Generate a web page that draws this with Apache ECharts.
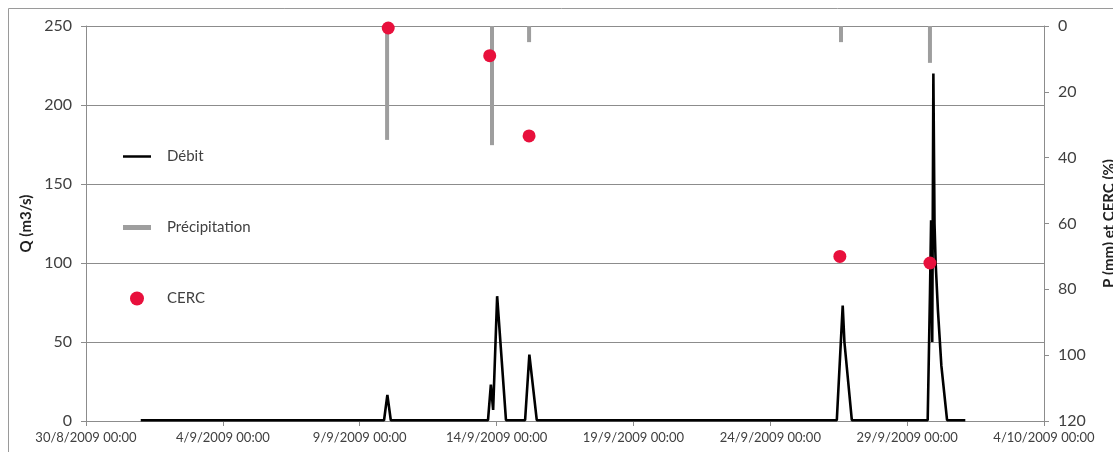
<!DOCTYPE html>
<html>
<head>
<meta charset="utf-8">
<script src="https://cdn.jsdelivr.net/npm/echarts@6/dist/echarts.min.js"></script>
<style>
  html, body { margin: 0; padding: 0; background: #fff; }
  #chart { width: 1113px; height: 452px; }
</style>
</head>
<body>
<div id="chart"></div>
<script>
// Débit (m3/s) — hydrograph readings, date "D/M/YYYY HH:MM"
const debitTimes = [
  '1/9/2009 00:00',
  '9/9/2009 21:20', '10/9/2009 00:15', '10/9/2009 03:15',
  '13/9/2009 16:30', '13/9/2009 19:00', '13/9/2009 21:00', '14/9/2009 00:30', '14/9/2009 08:15',
  '15/9/2009 01:00', '15/9/2009 04:45', '15/9/2009 11:15',
  '26/9/2009 10:20', '26/9/2009 15:30', '26/9/2009 17:00', '26/9/2009 23:30',
  '29/9/2009 18:00', '29/9/2009 20:00', '29/9/2009 21:00', '29/9/2009 22:00', '29/9/2009 23:00',
  '30/9/2009 00:00', '30/9/2009 01:00', '30/9/2009 03:00', '30/9/2009 06:00', '30/9/2009 11:00',
  '1/10/2009 03:00'
];
const debitValues = [
  0.5,
  0.5, 16.5, 0.5,
  0.5, 23, 7, 79, 0.5,
  0.5, 42, 0.5,
  0.5, 73, 50, 0.5,
  0.5, 80, 127, 50, 220,
  125, 100, 70, 35, 0.5,
  0.5
];

// Précipitation (mm)
const pluieTimes = ['10/9/2009 00:00', '13/9/2009 20:00', '15/9/2009 04:30', '26/9/2009 14:00', '29/9/2009 20:00'];
const pluieValues = [34.6, 36.2, 4.9, 4.9, 11.2];

// CERC (%)
const cercTimes = ['10/9/2009 01:00', '13/9/2009 18:00', '15/9/2009 04:30', '26/9/2009 13:00', '29/9/2009 20:00'];
const cercValues = [0.6, 9, 33.4, 70, 72];

// Axis ticks
const xTickStepDays = 5;
const xSpanDays = 35;
const qTicks = [0, 50, 100, 150, 200, 250];
const pTicks = [0, 20, 40, 60, 80, 100, 120];

const ORIGIN = Date.UTC(2009, 7, 30, 0, 0);
const DAY = 86400000;

function toDays(s) {
  const [d, t] = s.split(' ');
  const [dd, mm, yy] = d.split('/').map(Number);
  const [hh, mi] = t.split(':').map(Number);
  return (Date.UTC(yy, mm - 1, dd, hh, mi) - ORIGIN) / DAY;
}
function fmtDate(days) {
  const dt = new Date(ORIGIN + Math.round(days * DAY));
  const hh = String(dt.getUTCHours()).padStart(2, '0');
  const mi = String(dt.getUTCMinutes()).padStart(2, '0');
  return dt.getUTCDate() + '/' + (dt.getUTCMonth() + 1) + '/' + dt.getUTCFullYear() + ' ' + hh + ':' + mi;
}
const zip = (ts, vs) => ts.map((t, i) => [toDays(t), vs[i]]);

const FONT = 'Lato';
const TXT = '#404040';
const GRIDC = '#8c8c8c';
const RED = '#e8103c';

const chart = echarts.init(document.getElementById('chart'), null, { renderer: 'canvas' });
chart.setOption({
  animation: false,
  backgroundColor: '#fff',
  textStyle: { fontFamily: FONT },
  graphic: [{
    type: 'rect', silent: true, z: -10,
    shape: { x: 8.5, y: 8.5, width: 1130, height: 470 },
    style: { fill: 'none', stroke: '#9a9a9a', lineWidth: 1 }
  }],
  grid: { left: 86, right: 69, top: 26, bottom: 31, containLabel: false, outerBoundsMode: 'none' },
  legend: {
    orient: 'vertical',
    left: 123, top: 149,
    padding: 0,
    itemWidth: 28, itemHeight: 14, itemGap: 56,
    textStyle: {
      fontFamily: FONT, fontSize: 15, color: TXT,
      rich: { t: { fontFamily: FONT, fontSize: 15, color: TXT, padding: [0, 0, 0, 11] } }
    },
    formatter: name => '{t|' + name + '}',
    data: [
      { name: 'Débit', icon: 'path://M0,0L28,0L28,2.5L0,2.5Z' },
      { name: 'Précipitation', icon: 'path://M0,0L28,0L28,5L0,5Z' },
      { name: 'CERC', icon: 'circle' }
    ]
  },
  xAxis: {
    type: 'value',
    min: 0, max: xSpanDays, interval: xTickStepDays,
    axisLine: { show: true, lineStyle: { color: GRIDC, width: 1 } },
    axisTick: { show: true, inside: false, length: 5, lineStyle: { color: GRIDC } },
    splitLine: { show: false },
    axisLabel: {
      margin: 10, fontFamily: FONT, fontSize: 13, color: TXT,
      formatter: v => fmtDate(v)
    }
  },
  yAxis: [{
    type: 'value',
    min: qTicks[0], max: qTicks[qTicks.length - 1], interval: qTicks[1] - qTicks[0],
    name: 'Q (m3/s)',
    nameLocation: 'middle', nameGap: 49, nameRotate: 90,
    nameTextStyle: { fontFamily: FONT, fontSize: 15, fontWeight: 'bold', color: '#222' },
    axisLine: { show: true, lineStyle: { color: GRIDC, width: 1 } },
    axisTick: { show: true, length: 5, lineStyle: { color: GRIDC } },
    splitLine: { show: true, lineStyle: { color: GRIDC, width: 1 } },
    axisLabel: { margin: 14, fontFamily: FONT, fontSize: 16, color: TXT }
  }, {
    type: 'value',
    inverse: true,
    min: pTicks[0], max: pTicks[pTicks.length - 1], interval: pTicks[1] - pTicks[0],
    name: 'P (mm) et CERC (%)',
    nameLocation: 'middle', nameGap: 58, nameRotate: 90,
    nameTextStyle: { fontFamily: FONT, fontSize: 15, fontWeight: 'bold', color: '#222' },
    axisLine: { show: true, lineStyle: { color: GRIDC, width: 1 } },
    axisTick: { show: true, length: 5, lineStyle: { color: GRIDC } },
    splitLine: { show: false },
    axisLabel: { margin: 14, fontFamily: FONT, fontSize: 16, color: TXT }
  }],
  series: [{
    name: 'Débit',
    type: 'line',
    yAxisIndex: 0,
    data: zip(debitTimes, debitValues),
    symbol: 'none',
    color: '#000',
    lineStyle: { color: '#000', width: 2.6 },
    z: 3
  }, {
    name: 'Précipitation',
    type: 'bar',
    yAxisIndex: 1,
    data: zip(pluieTimes, pluieValues),
    barWidth: 4,
    color: '#9e9e9e',
    itemStyle: { color: '#9e9e9e' },
    z: 2
  }, {
    name: 'CERC',
    type: 'scatter',
    yAxisIndex: 1,
    data: zip(cercTimes, cercValues),
    symbol: 'circle',
    symbolSize: 13,
    color: RED,
    itemStyle: { color: RED, opacity: 1 },
    z: 4
  }]
});
</script>
</body>
</html>
